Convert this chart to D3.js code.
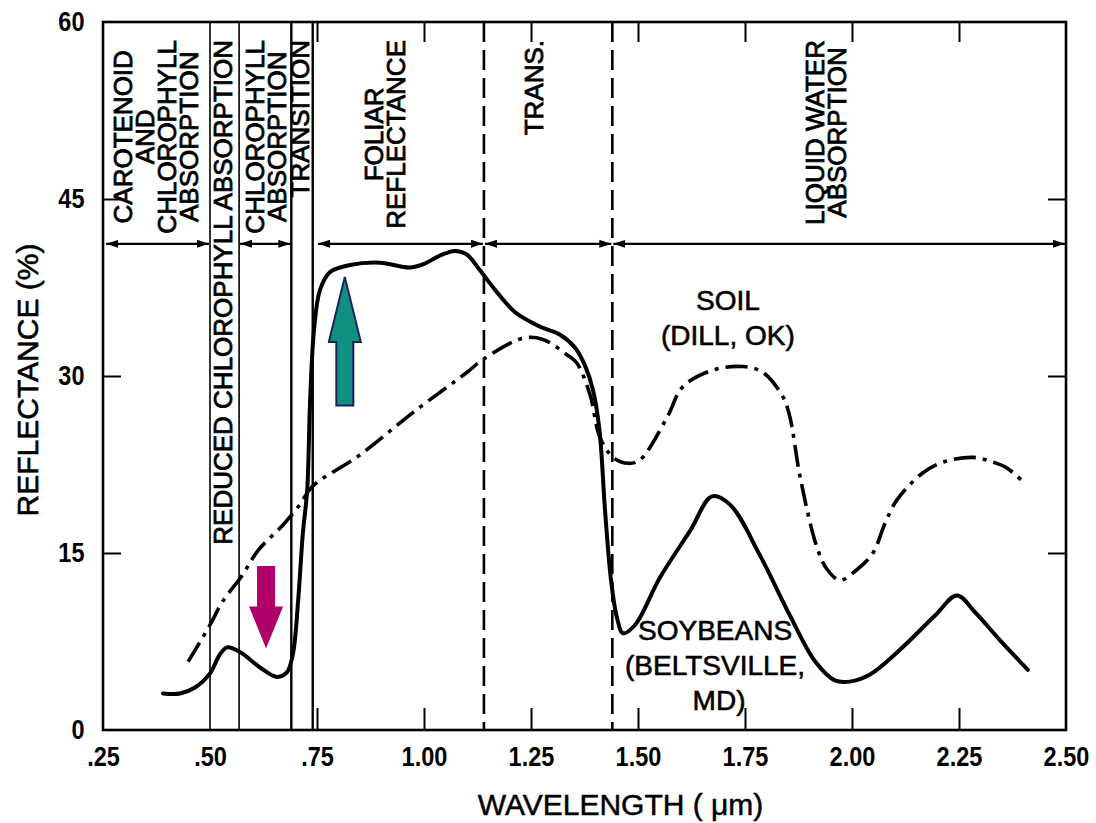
<!DOCTYPE html>
<html><head><meta charset="utf-8">
<script src="https://cdn.jsdelivr.net/npm/d3@7"></script>
<style>
body{margin:0;background:#fff;}
svg{display:block;}
text{font-family:"Liberation Sans",Arial,Helvetica,sans-serif;fill:#000;}
</style></head><body>
<svg id="chart" width="1096" height="823"></svg>
<script>
// ---- data ----
const soyWavelength = [0.39,0.43,0.465,0.50,0.523,0.54,0.57,0.617,0.657,0.68,0.694,0.706,0.717,0.727,0.734,0.743,0.757,0.78,0.827,0.897,0.967,1.0,1.037,1.072,1.10,1.13,1.166,1.213,1.27,1.318,1.353,1.376,1.395,1.41,1.423,1.437,1.451,1.465,1.493,1.551,1.622,1.673,1.715,1.785,1.855,1.914,1.96,1.995,2.042,2.112,2.194,2.245,2.287,2.346,2.411];
const soyReflectance = [3.1,3.1,3.6,4.8,6.4,7.0,6.6,5.3,4.5,4.9,6.5,11.0,16.7,20.3,28.0,33.9,37.3,38.8,39.4,39.6,39.2,39.5,40.2,40.6,40.3,39.0,37.3,35.4,34.2,33.5,32.4,30.9,28.8,25.4,18.6,12.7,9.5,8.2,8.9,12.9,16.9,19.8,19.1,14.8,9.7,5.8,4.2,4.1,4.7,6.8,9.7,11.4,10.0,7.6,5.1];
const soilWavelength = [0.449,0.50,0.528,0.575,0.612,0.671,0.71,0.738,0.85,0.974,1.10,1.138,1.231,1.278,1.334,1.357,1.388,1.411,1.442,1.477,1.505,1.568,1.605,1.675,1.745,1.792,1.839,1.855,1.879,1.918,1.942,1.972,2.012,2.049,2.077,2.105,2.166,2.213,2.283,2.33,2.362,2.404];
const soilReflectance = [5.8,8.9,10.8,13.1,15.2,17.4,19.1,20.6,23.3,26.9,30.3,31.4,33.2,33.1,31.8,31.1,28.4,24.8,23.1,22.6,22.9,26.5,29.1,30.5,30.8,30.3,28.2,26.5,21.4,15.5,13.6,12.7,13.6,15.0,17.5,19.5,21.8,22.7,23.1,22.7,22.2,20.9];

const xTickValues = [0.25,0.5,0.75,1.0,1.25,1.5,1.75,2.0,2.25,2.5];
const xTickLabels = [".25",".50",".75","1.00","1.25","1.50","1.75","2.00","2.25","2.50"];
const yTickValues = [0,15,30,45,60];
const yTickLabels = ["0","15","30","45","60"];
const innerXTicks = [0.75,1.0,1.25,1.5,1.75,2.0,2.25];
const innerYTicks = [15,30,45];

const boundaryWavelengths = [0.50,0.568,0.69,0.74,1.14,1.44];
const boundaryDashed = [false,false,false,false,true,true];
const regionNames = [["CAROTENOID","AND","CHLOROPHYLL","ABSORPTION"],["REDUCED CHLOROPHYLL ABSORPTION"],["CHLOROPHYLL","ABSORPTION"],["TRANSITION"],["FOLIAR","REFLECTANCE"],["TRANS."],["LIQUID WATER","ABSORPTION"]];
const regionCenters = [0.373,0.53,0.63,0.709,0.909,1.255,1.939];
const spanStarts = [0.255,0.568,0.75,1.14,1.44];
const spanEnds = [0.50,0.69,1.14,1.44,2.50];
const spanLevel = 41.2;

const arrowWavelength = [0.815,0.631];
const arrowTail = [27.5,13.9];
const arrowTip = [38.4,6.9];
const arrowFill = ["#10907f","#b0006a"];
const arrowStroke = ["#1b2160","none"];

const curveLabels = [["SOIL","(DILL, OK)"],["SOYBEANS","(BELTSVILLE,","MD)"]];
const curveLabelX = [1.71,1.68];
const curveLabelY = [35.6,7.6];

// ---- layout ----
const svg = d3.select("#chart");
const x = d3.scaleLinear([0.25,2.5],[103,1066]);
const y = d3.scaleLinear([0,60],[730,22]);
const FONT = '"Liberation Sans",Arial,Helvetica,sans-serif';

// region boundaries
boundaryWavelengths.forEach((w,i)=>{
  svg.append("line").attr("x1",x(w)).attr("x2",x(w)).attr("y1",y(60)).attr("y2",y(0))
    .attr("stroke","#000").attr("stroke-width",boundaryDashed[i]?2.6:(i<2?1.6:2.4))
    .attr("stroke-dasharray",boundaryDashed[i]?"20,8":null);
});

// spans with double arrows
const defs = svg.append("defs");
defs.append("marker").attr("id","ah").attr("viewBox","0 0 12 10").attr("refX",12).attr("refY",5)
  .attr("markerWidth",12).attr("markerHeight",10).attr("markerUnits","userSpaceOnUse").attr("orient","auto-start-reverse")
  .append("path").attr("d","M0,1 L12,5 L0,9 Z").attr("fill","#000");
spanStarts.forEach((s,i)=>{
  svg.append("line").attr("x1",x(s)+1).attr("x2",x(spanEnds[i])-1).attr("y1",y(spanLevel)).attr("y2",y(spanLevel))
    .attr("stroke","#000").attr("stroke-width",2.2)
    .attr("marker-start","url(#ah)").attr("marker-end","url(#ah)");
});

// region labels (rotated, top-aligned, lines centred on each other)
const lineGap = 22, labelTop = y(60)+18;
regionNames.forEach((lines,gi)=>{
  const g = svg.append("g");
  const texts = lines.map((t,li)=>{
    const cx = x(regionCenters[gi]) + (li-(lines.length-1)/2)*lineGap;
    return g.append("text").text(t).attr("font-size",26).attr("text-anchor","middle")
      .attr("dy","0.36em").attr("data-cx",cx).attr("fill","#000")
      .attr("stroke","#000").attr("stroke-width",0.8);
  });
  const lens = texts.map(t=>t.node().getComputedTextLength());
  const maxLen = d3.max(lens);
  const cy = labelTop + maxLen/2;
  texts.forEach(t=>{
    const cx = +t.attr("data-cx");
    t.attr("transform",`translate(${cx},${cy}) rotate(-90)`);
  });
});

// curves
const line = d3.line().x(d=>x(d[0])).y(d=>y(d[1])).curve(d3.curveCatmullRom.alpha(0.5));
svg.append("path").datum(soilWavelength.map((w,i)=>[w,soilReflectance[i]]))
  .attr("d",line).attr("fill","none").attr("stroke","#000").attr("stroke-width",3.6)
  .attr("stroke-dasharray","22,7,4,7");
svg.append("path").datum(soyWavelength.map((w,i)=>[w,soyReflectance[i]]))
  .attr("d",line).attr("fill","none").attr("stroke","#000").attr("stroke-width",4)
  .attr("stroke-linejoin","round").attr("stroke-linecap","round");

// curve labels
curveLabels.forEach((lines,gi)=>{
  lines.forEach((t,li)=>{
    svg.append("text").text(t).attr("text-anchor","middle")
      .attr("transform",`translate(${x(curveLabelX[gi])+(gi===1&&li===2?4:0)},${y(curveLabelY[gi])+li*35})`)
      .attr("font-size",28).attr("stroke","#000").attr("stroke-width",0.6);
  });
});

// arrows
arrowWavelength.forEach((w,i)=>{
  const cx = x(w), y0 = y(arrowTail[i]), y1 = y(arrowTip[i]);
  const d = Math.sign(y1-y0);
  const sw = i===0?8.5:9, hw = i===0?16:17, hl = i===0?65:42;
  const pts = [[cx-sw,y0],[cx+sw,y0],[cx+sw,y1-d*hl],[cx+hw,y1-d*hl],[cx,y1],[cx-hw,y1-d*hl],[cx-sw,y1-d*hl]];
  svg.append("polygon").attr("points",pts.map(p=>p.join(",")).join(" "))
    .attr("fill",arrowFill[i]).attr("stroke",arrowStroke[i]).attr("stroke-width",2);
});

// frame
svg.append("rect").attr("x",x(0.25)).attr("y",y(60)).attr("width",x(2.5)-x(0.25)).attr("height",y(0)-y(60))
  .attr("fill","none").attr("stroke","#000").attr("stroke-width",2.6);

// axes
const gx = svg.append("g").attr("transform",`translate(0,${y(0)})`)
  .call(d3.axisBottom(x).tickValues(xTickValues).tickFormat((d,i)=>xTickLabels[i]).tickSizeInner(0).tickSizeOuter(0).tickPadding(16));
const gxi = svg.append("g").attr("transform",`translate(0,${y(0)})`)
  .call(d3.axisBottom(x).tickValues(innerXTicks).tickFormat("").tickSizeInner(-22).tickSizeOuter(0));
const gxt = svg.append("g").attr("transform",`translate(0,${y(60)})`)
  .call(d3.axisTop(x).tickValues(innerXTicks).tickFormat("").tickSizeInner(-20).tickSizeOuter(0));
const gy = svg.append("g").attr("transform",`translate(${x(0.25)},0)`)
  .call(d3.axisLeft(y).tickValues(yTickValues).tickFormat((d,i)=>yTickLabels[i]).tickSizeInner(0).tickSizeOuter(0).tickPadding(22));
const gyi = svg.append("g").attr("transform",`translate(${x(0.25)},0)`)
  .call(d3.axisLeft(y).tickValues(innerYTicks).tickFormat("").tickSizeInner(-18).tickSizeOuter(0));
const gyr = svg.append("g").attr("transform",`translate(${x(2.5)},0)`)
  .call(d3.axisRight(y).tickValues(innerYTicks).tickFormat("").tickSizeInner(-18).tickSizeOuter(0));
[gx,gxi,gxt,gy,gyi,gyr].forEach(g=>{
  g.select(".domain").remove();
  g.selectAll(".tick line").attr("stroke","#000").attr("stroke-width",2);
});
gx.selectAll("text").attr("font-family",FONT).attr("font-size",28).attr("font-weight","bold")
  .attr("fill","#000").attr("transform","scale(0.84,1)");
gy.selectAll("text").attr("font-family",FONT).attr("font-size",28).attr("font-weight","bold")
  .attr("fill","#000").attr("transform","scale(0.84,1)");

// axis titles
svg.append("text").text("REFLECTANCE (%)").attr("text-anchor","middle")
  .attr("transform",`translate(38,${(y(0)+y(60))/2+4}) rotate(-90)`)
  .attr("font-size",30).attr("stroke","#000").attr("stroke-width",0.6);
svg.append("text").text("WAVELENGTH ( μm)").attr("text-anchor","middle")
  .attr("transform",`translate(${(x(0.25)+x(2.5))/2+36},815)`)
  .attr("font-size",30).attr("stroke","#000").attr("stroke-width",0.5);
</script>
</body></html>
